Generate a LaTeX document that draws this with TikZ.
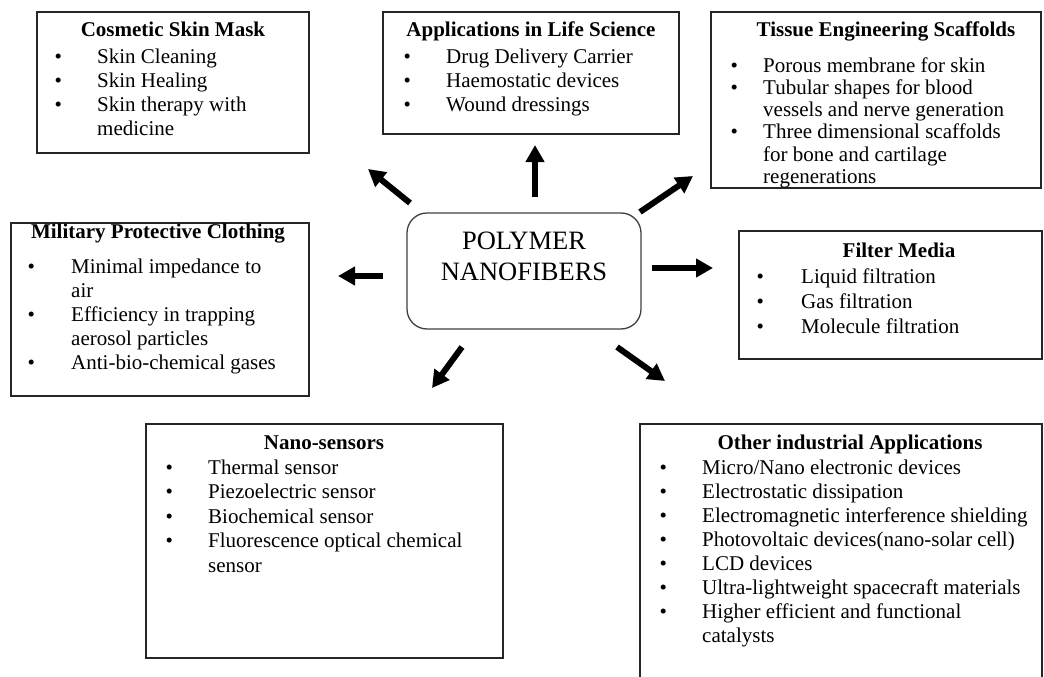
\documentclass[tikz,border=0pt]{standalone}
\usepackage{fontspec}
\setmainfont{Liberation Serif}
\usetikzlibrary{arrows.meta}
\newlength\bgap
\newcommand\bl[1]{\makebox[0pt]{\textbullet}\hspace*{\bgap}#1}
\newcommand\cl[1]{\hspace*{\bgap}#1}
\begin{document}
\begin{tikzpicture}[x=1pt,y=-1pt,
  panel/.style={draw=black!85, line width=1.3pt, rectangle, inner sep=0pt, outer sep=0pt},
  ttl/.style={font=\fontsize{21}{24}\bfseries\selectfont, anchor=base, inner sep=0pt},
  itm/.style={font=\fontsize{21}{24}\selectfont, align=left, anchor=base west, inner sep=0pt},
  bgapset/.code={\global\bgap=#1},
  arr/.style={line width=6pt, -{Triangle[length=17pt,width=18pt]}, black},
]
\fill[white] (0,0) rectangle (1044,677);
\useasboundingbox (0,0) rectangle (1044,677);

% panels
\node[panel, minimum width=272pt, minimum height=141pt] (cos) at (173,82.5) {};
\node[panel, minimum width=296pt, minimum height=122pt] (life) at (531,73) {};
\node[panel, minimum width=330pt, minimum height=176pt] (tis) at (876,100) {};
\node[panel, minimum width=298pt, minimum height=173pt] (mil) at (160,309.5) {};
\node[panel, minimum width=303pt, minimum height=128pt] (fil) at (890.5,295) {};
\node[panel, minimum width=357pt, minimum height=234pt] (nano) at (324.5,541) {};
\node[panel, minimum width=402pt, minimum height=276pt] (oth) at (841,562) {};
\node[panel, draw=black!75, rounded corners=20pt, minimum width=234pt, minimum height=116pt] (core) at (524,271) {};

% titles
\node[ttl] (cosT) at (173,37) {Cosmetic Skin Mask};
\node[ttl] (lifeT) at (531,37) {Applications in Life Science};
\node[ttl] (tisT) at (886,37) {Tissue Engineering Scaffolds};
\node[ttl] (milT) at (158,238) {Military Protective Clothing};
\node[ttl] (filT) at (899,257) {Filter Media};
\node[ttl] (nanoT) at (324,449) {Nano-sensors};
\node[ttl] (othT) at (850,449) {Other industrial Applications};
% multi-line nodes: base = baseline of the last line
\node[font=\fontsize{26.5}{31}\selectfont, align=center, anchor=base, inner sep=0pt] (coreT) at (524,280) {POLYMER\\NANOFIBERS};

% items
\node[itm, bgapset=39pt] (cosI) at (58,135) {\bl{Skin Cleaning}\\\bl{Skin Healing}\\\bl{Skin therapy with}\\\cl{medicine}};
\node[itm, bgapset=39pt] (lifeI) at (407,111) {\bl{Drug Delivery Carrier}\\\bl{Haemostatic devices}\\\bl{Wound dressings}};
\node[itm, bgapset=29pt, font=\fontsize{21}{22.3}\selectfont] (tisI) at (734,183.5) {\bl{Porous membrane for skin}\\\bl{Tubular shapes for blood}\\\cl{vessels and nerve generation}\\\bl{Three dimensional scaffolds}\\\cl{for bone and cartilage}\\\cl{regenerations}};
\node[itm, bgapset=40pt] (milI) at (31,369) {\bl{Minimal impedance to}\\\cl{air}\\\bl{Efficiency in trapping}\\\cl{aerosol particles}\\\bl{Anti-bio-chemical gases}};
\node[itm, bgapset=41pt, font=\fontsize{21}{25}\selectfont] (filI) at (760,333) {\bl{Liquid filtration}\\\bl{Gas filtration}\\\bl{Molecule filtration}};
\node[itm, bgapset=39pt, font=\fontsize{21}{24.5}\selectfont] (nanoI) at (169,572) {\bl{Thermal sensor}\\\bl{Piezoelectric sensor}\\\bl{Biochemical sensor}\\\bl{Fluorescence optical chemical}\\\cl{sensor}};
\node[itm, bgapset=39pt] (othI) at (663,642) {\bl{Micro/Nano electronic devices}\\\bl{Electrostatic dissipation}\\\bl{Electromagnetic interference shielding}\\\bl{Photovoltaic devices(nano-solar cell)}\\\bl{LCD devices}\\\bl{Ultra-lightweight spacecraft materials}\\\bl{Higher efficient and functional}\\\cl{catalysts}};

% arrow end points
\coordinate (aUs) at (535,197); \coordinate (aUe) at (535,145);
\coordinate (aULs) at (410,203); \coordinate (aULe) at (368,169);
\coordinate (aURs) at (640,212); \coordinate (aURe) at (693,176);
\coordinate (aLs) at (383,276); \coordinate (aLe) at (338,276);
\coordinate (aRs) at (652,268); \coordinate (aRe) at (713,268);
\coordinate (aLLs) at (462,347); \coordinate (aLLe) at (432,388);
\coordinate (aLRs) at (617,347); \coordinate (aLRe) at (665,381);

\draw[arr] (aUs) -- (aUe);
\draw[arr] (aULs) -- (aULe);
\draw[arr] (aURs) -- (aURe);
\draw[arr] (aLs) -- (aLe);
\draw[arr] (aRs) -- (aRe);
\draw[arr] (aLLs) -- (aLLe);
\draw[arr] (aLRs) -- (aLRe);
\end{tikzpicture}
\end{document}
